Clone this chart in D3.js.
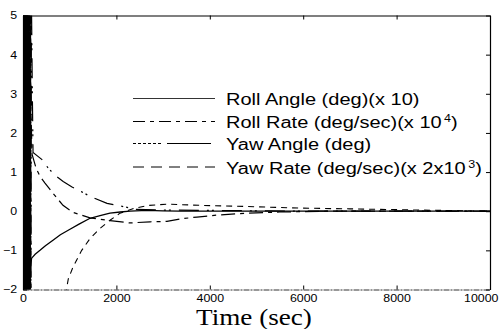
<!DOCTYPE html>
<html>
<head>
<meta charset="utf-8">
<script src="https://cdn.jsdelivr.net/npm/d3@7"></script>
<style>
  body { margin: 0; background: #fff; }
  svg { display: block; }
</style>
</head>
<body>
<svg id="chart" width="499" height="329"></svg>
<script>
// Axis ticks
const xTicks = [0, 2000, 4000, 6000, 8000, 10000];
const yTicks = [-2, -1, 0, 1, 2, 3, 4, 5];

// Roll angle (deg)(x 10): fast oscillation, then recovery from below
const rollAngleT = [0,4,8,12,16,20,24,28,32,36,40,44,48,52,56,60,66,72,78,84,90,96,102,140,186,260,364,480,642,800,1006,1200,1435,1650,1863,2080,2291,2655,3000,3362,4000,5000,6000,8000,10000];
const rollAngleV = [0,5.6,-2.5,5.6,-2.5,5.6,-2.5,5.6,-2.5,5.6,-2.5,5.6,-2.5,5.6,-2.5,5.6,-2.5,5.6,-2.5,5.6,-2.5,5.6,-2.5,-1.5,-1.2,-1.1,-1.0,-0.88,-0.74,-0.6,-0.46,-0.33,-0.18,-0.11,-0.05,-0.02,0,0.02,0.01,0,0,0,0,0,0];

// Roll rate (deg/sec)(x 10^4)
const rollRateT = [0,5,10,15,20,25,30,35,40,45,50,55,60,65,70,75,80,90,195,280,360,471,642,856,1070,1435,1863,2291,2720,3083,3400,3725,4150,4800,5500,6500,8000,10000];
const rollRateV = [0,6,-3,6,-3,6,-3,6,-3,6,-3,6,-3,6,-3,6,-3,6,1.45,1.1,0.9,0.72,0.46,0.15,-0.03,-0.17,-0.24,-0.3,-0.27,-0.26,-0.19,-0.15,-0.1,-0.05,-0.02,0,0,0];

// Yaw angle (deg)
const yawAngleT = [0,10,20,30,40,50,60,70,80,90,100,110,120,130,140,150,160,170,180,200,215,300,407,540,685,860,1050,1250,1435,1800,2227,2400,3000,4000,5000,6000,8000,10000];
const yawAngleV = [0,-3,6,-3,6,-3,6,-3,6,-3,6,-3,6,-3,6,-3,6,-3,5.5,3.0,1.5,1.42,1.32,1.1,0.92,0.76,0.62,0.5,0.38,0.2,0.1,0.05,0.03,0.02,0.01,0,0,0];

// Yaw rate (deg/sec)(x 2x10^3)
const yawRateT = [0,100,105,110,115,120,125,130,135,140,145,150,155,160,165,170,175,900,970,1070,1257,1435,1650,1863,2077,2400,2700,3100,3800,4800,5900,7000,8500,9500,10000];
const yawRateV = [0,0,6,-6,6,-6,6,-6,6,-6,6,-6,6,-6,6,-6,-6,-2.2,-1.73,-1.43,-1.0,-0.7,-0.44,-0.23,-0.05,0.08,0.15,0.18,0.15,0.12,0.08,0.06,0.03,0.01,0];

const legendNames = ["Roll Angle (deg)(x 10)", "Roll Rate (deg/sec)(x 10", "Yaw Angle (deg)", "Yaw Rate (deg/sec)(x 2x10"];
const legendSups = ["", "4", "", "3"];
const legendTails = ["", ")", "", ")"];
const axisTitle = "Time (sec)";

const svg = d3.select("#chart");
const plotLeft = 23, plotRight = 490, plotTop = 15.5, plotBottom = 289.5;

const x = d3.scaleLinear().domain([0, 10000]).range([plotLeft, plotRight]);
const y = d3.scaleLinear().domain([-2, 5]).range([plotBottom, plotTop]);

const series = [
  { t: rollAngleT, v: rollAngleV, dash: null, width: 1.3, legendDash: null, legendWidth: 0.8 },
  { t: rollRateT, v: rollRateV, dash: "14,5,4,5", width: 1.2, legendDash: "12,5,4,5", legendWidth: 1 },
  { t: yawAngleT, v: yawAngleV, dash: "20,8,2,3,2,8", width: 1.2, legendDash: "3,2,3,2,3,2,3,2,3,2,3,6,44,10", legendWidth: 1 },
  { t: yawRateT, v: yawRateV, dash: "6,5", width: 1.1, legendDash: "11,7", legendWidth: 1 }
];

svg.append("defs").append("clipPath").attr("id", "plotClip")
  .append("rect").attr("x", plotLeft).attr("y", plotTop)
  .attr("width", plotRight - plotLeft).attr("height", plotBottom - plotTop);

const line = d3.line().x(d => x(d[0])).y(d => y(d[1]));

const plot = svg.append("g").attr("clip-path", "url(#plotClip)");
series.forEach(s => {
  const pts = s.t.map((t, i) => [t, s.v[i]]);
  plot.append("path")
    .datum(pts)
    .attr("d", line)
    .attr("fill", "none")
    .attr("stroke", "#000")
    .attr("stroke-width", s.width)
    .attr("stroke-dasharray", s.dash);
});

// Box with inward ticks on all sides
const fmt = d3.format("d");
const textScale = 1.18;

const gB = svg.append("g").attr("transform", `translate(0,${plotBottom})`)
  .call(d3.axisBottom(x).tickValues(xTicks).tickFormat(fmt).tickSizeInner(-4).tickSizeOuter(0).tickPadding(5.5));
const gL = svg.append("g").attr("transform", `translate(${plotLeft},0)`)
  .call(d3.axisLeft(y).tickValues(yTicks).tickFormat(fmt).tickSizeInner(-4).tickSizeOuter(0).tickPadding(5));
const gT = svg.append("g").attr("transform", `translate(0,${plotTop})`)
  .call(d3.axisTop(x).tickValues(xTicks).tickFormat("").tickSizeInner(-4).tickSizeOuter(0));
const gR = svg.append("g").attr("transform", `translate(${plotRight},0)`)
  .call(d3.axisRight(y).tickValues(yTicks).tickFormat("").tickSizeInner(-4).tickSizeOuter(0));

[gB, gL, gT, gR].forEach(g => {
  g.select(".domain").attr("stroke", "#000").attr("stroke-width", 1.2);
  g.selectAll(".tick line").attr("stroke", "#000").attr("stroke-width", 1);
  g.selectAll("text")
    .attr("fill", "#000")
    .style("font-family", "'Liberation Sans', Arial, sans-serif")
    .style("font-size", "10.5px")
    .attr("transform", `scale(${textScale},1)`);
});
gB.select(".domain").attr("stroke", "#333").attr("stroke-dasharray", "6,1,2,1");
// the last label sits at the right edge of the canvas; keep it inside
gB.selectAll(".tick text").filter(d => d === 10000).attr("text-anchor", "end").attr("x", 8 / textScale);

// Legend (no frame)
const legY = [98.5, 121.5, 143.5, 167];
const legG = svg.append("g");
series.forEach((s, i) => {
  legG.append("line")
    .attr("x1", 133).attr("x2", 215)
    .attr("y1", legY[i]).attr("y2", legY[i])
    .attr("stroke", "#000")
    .attr("stroke-width", s.legendWidth)
    .attr("stroke-dasharray", s.legendDash);
  const txt = legG.append("text")
    .attr("transform", `translate(226,${legY[i] + 6.5}) scale(1.25,1)`)
    .style("font-family", "'Liberation Sans', Arial, sans-serif")
    .style("font-size", "16px")
    .attr("fill", "#000");
  txt.append("tspan").text(legendNames[i]);
  if (legendSups[i]) {
    txt.append("tspan").attr("dx", 2).attr("dy", -6).style("font-size", "10px").text(legendSups[i]);
    txt.append("tspan").attr("dy", 6).text(legendTails[i]);
  }
});

// Axis title
svg.append("text")
  .attr("transform", `translate(254,325) scale(1.18,1)`)
  .attr("text-anchor", "middle")
  .style("font-family", "'Liberation Serif', 'Times New Roman', serif")
  .style("font-size", "23px")
  .attr("fill", "#000")
  .text(axisTitle);
</script>
</body>
</html>
